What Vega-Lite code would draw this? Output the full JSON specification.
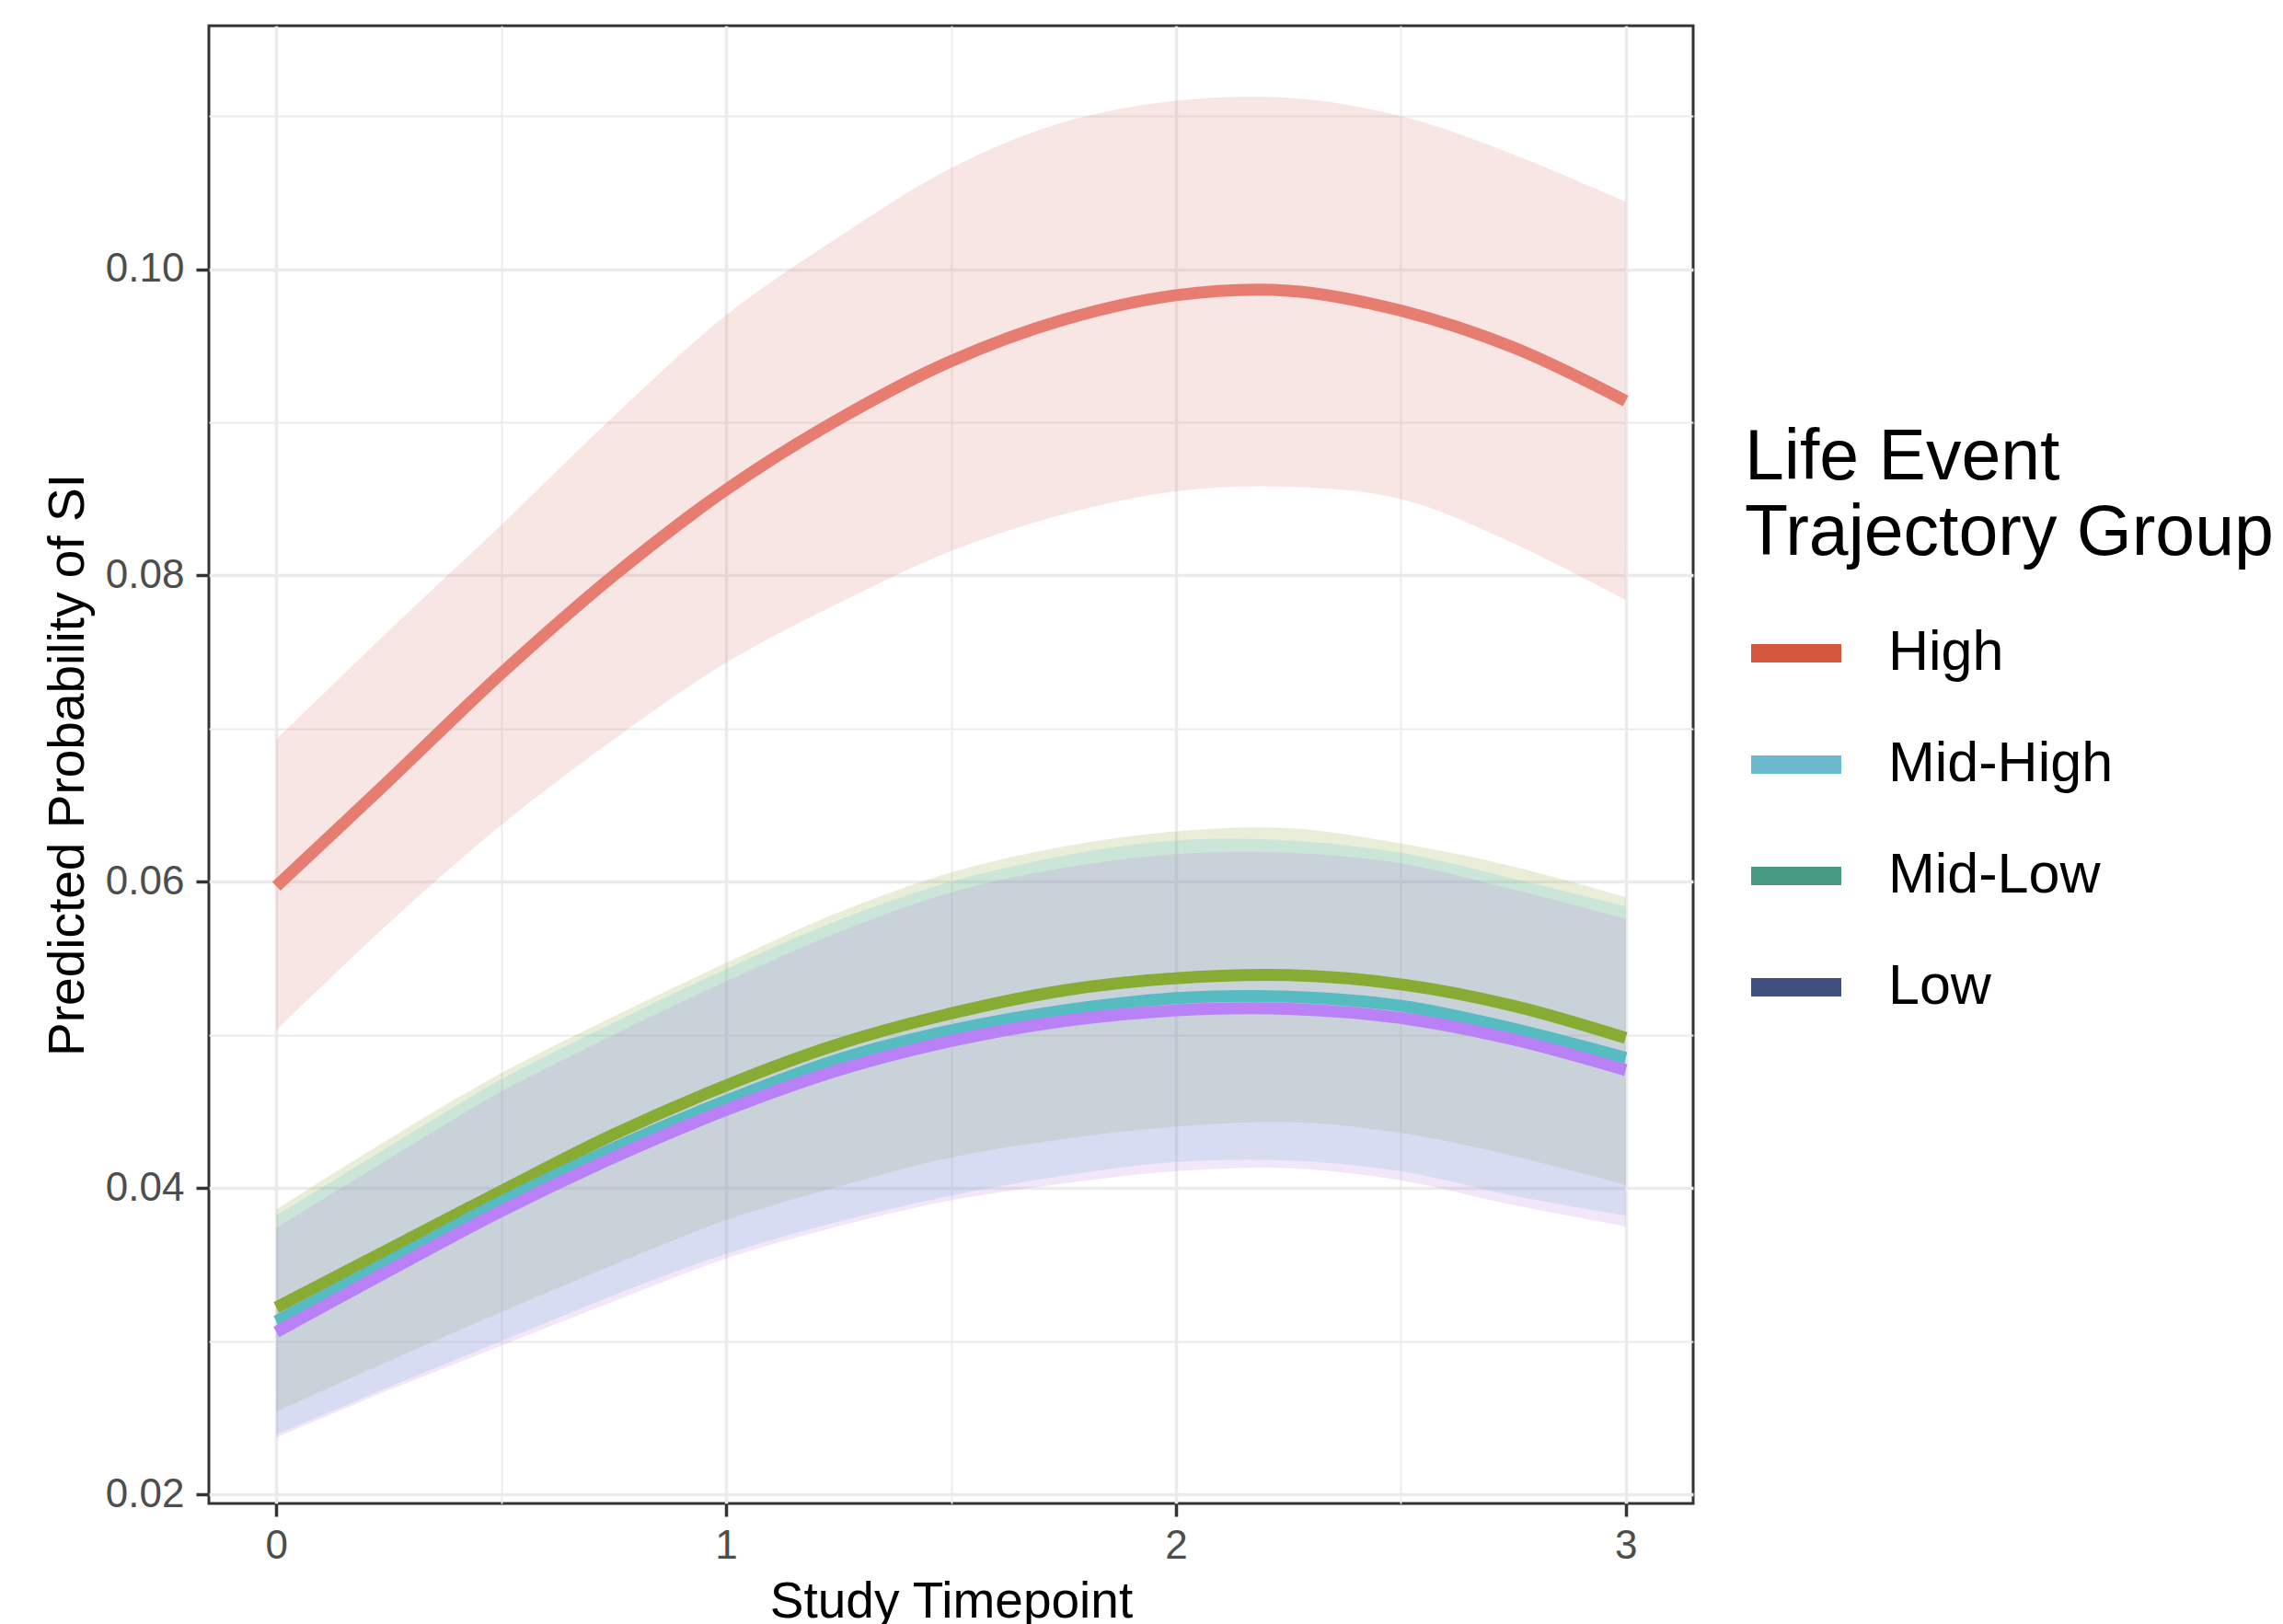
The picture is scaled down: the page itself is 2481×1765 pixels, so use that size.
{
  "$schema": "https://vega.github.io/schema/vega-lite/v6.json",
  "width": 1613,
  "height": 1606,
  "autosize": {"type": "none"},
  "padding": {"left": 227, "top": 28, "right": 641, "bottom": 131},
  "background": "white",
  "config": {
    "font": "Liberation Sans",
    "view": {"stroke": "#333333", "strokeWidth": 3}
  },
  "data": {
    "values": [
      {"t": 0, "group": "High", "fit": 0.0597, "lo": 0.0503, "hi": 0.0693},
      {"t": 0.25, "group": "High", "fit": 0.0666, "lo": 0.0573, "hi": 0.0764},
      {"t": 0.5, "group": "High", "fit": 0.0736, "lo": 0.0637, "hi": 0.0833},
      {"t": 0.75, "group": "High", "fit": 0.0800, "lo": 0.0693, "hi": 0.0904},
      {"t": 1, "group": "High", "fit": 0.0856, "lo": 0.0743, "hi": 0.0970},
      {"t": 1.25, "group": "High", "fit": 0.0902, "lo": 0.0782, "hi": 0.1021},
      {"t": 1.5, "group": "High", "fit": 0.0940, "lo": 0.0816, "hi": 0.1066},
      {"t": 1.75, "group": "High", "fit": 0.0967, "lo": 0.0840, "hi": 0.1096},
      {"t": 2, "group": "High", "fit": 0.0983, "lo": 0.0855, "hi": 0.1110},
      {"t": 2.25, "group": "High", "fit": 0.0986, "lo": 0.0858, "hi": 0.1112},
      {"t": 2.5, "group": "High", "fit": 0.0973, "lo": 0.0850, "hi": 0.1100},
      {"t": 2.75, "group": "High", "fit": 0.0949, "lo": 0.0821, "hi": 0.1075},
      {"t": 3, "group": "High", "fit": 0.0914, "lo": 0.0784, "hi": 0.1044},

      {"t": 0, "group": "Mid-High", "fit": 0.0322, "lo": 0.0254, "hi": 0.0386},
      {"t": 0.25, "group": "Mid-High", "fit": 0.0360, "lo": 0.0287, "hi": 0.0432},
      {"t": 0.5, "group": "Mid-High", "fit": 0.0398, "lo": 0.0319, "hi": 0.0475},
      {"t": 0.75, "group": "Mid-High", "fit": 0.0435, "lo": 0.0350, "hi": 0.0512},
      {"t": 1, "group": "Mid-High", "fit": 0.0467, "lo": 0.0379, "hi": 0.0547},
      {"t": 1.25, "group": "Mid-High", "fit": 0.0494, "lo": 0.0401, "hi": 0.0580},
      {"t": 1.5, "group": "Mid-High", "fit": 0.0514, "lo": 0.0420, "hi": 0.0606},
      {"t": 1.75, "group": "Mid-High", "fit": 0.0529, "lo": 0.0432, "hi": 0.0623},
      {"t": 2, "group": "Mid-High", "fit": 0.0537, "lo": 0.0440, "hi": 0.0633},
      {"t": 2.25, "group": "Mid-High", "fit": 0.0539, "lo": 0.0443, "hi": 0.0635},
      {"t": 2.5, "group": "Mid-High", "fit": 0.0533, "lo": 0.0436, "hi": 0.0625},
      {"t": 2.75, "group": "Mid-High", "fit": 0.0519, "lo": 0.0421, "hi": 0.0610},
      {"t": 3, "group": "Mid-High", "fit": 0.0498, "lo": 0.0402, "hi": 0.0590},

      {"t": 0, "group": "Mid-Low", "fit": 0.0313, "lo": 0.0239, "hi": 0.0382},
      {"t": 0.25, "group": "Mid-Low", "fit": 0.0352, "lo": 0.0270, "hi": 0.0427},
      {"t": 0.5, "group": "Mid-Low", "fit": 0.0391, "lo": 0.0300, "hi": 0.0471},
      {"t": 0.75, "group": "Mid-Low", "fit": 0.0426, "lo": 0.0330, "hi": 0.0508},
      {"t": 1, "group": "Mid-Low", "fit": 0.0457, "lo": 0.0357, "hi": 0.0543},
      {"t": 1.25, "group": "Mid-Low", "fit": 0.0484, "lo": 0.0378, "hi": 0.0575},
      {"t": 1.5, "group": "Mid-Low", "fit": 0.0503, "lo": 0.0395, "hi": 0.0600},
      {"t": 1.75, "group": "Mid-Low", "fit": 0.0516, "lo": 0.0408, "hi": 0.0617},
      {"t": 2, "group": "Mid-Low", "fit": 0.0524, "lo": 0.0417, "hi": 0.0627},
      {"t": 2.25, "group": "Mid-Low", "fit": 0.0525, "lo": 0.0418, "hi": 0.0627},
      {"t": 2.5, "group": "Mid-Low", "fit": 0.0519, "lo": 0.0411, "hi": 0.0619},
      {"t": 2.75, "group": "Mid-Low", "fit": 0.0504, "lo": 0.0395, "hi": 0.0602},
      {"t": 3, "group": "Mid-Low", "fit": 0.0485, "lo": 0.0382, "hi": 0.0584},

      {"t": 0, "group": "Low", "fit": 0.0306, "lo": 0.0237, "hi": 0.0374},
      {"t": 0.25, "group": "Low", "fit": 0.0346, "lo": 0.0268, "hi": 0.0419},
      {"t": 0.5, "group": "Low", "fit": 0.0385, "lo": 0.0297, "hi": 0.0463},
      {"t": 0.75, "group": "Low", "fit": 0.0420, "lo": 0.0326, "hi": 0.0500},
      {"t": 1, "group": "Low", "fit": 0.0451, "lo": 0.0354, "hi": 0.0535},
      {"t": 1.25, "group": "Low", "fit": 0.0477, "lo": 0.0375, "hi": 0.0567},
      {"t": 1.5, "group": "Low", "fit": 0.0496, "lo": 0.0392, "hi": 0.0593},
      {"t": 1.75, "group": "Low", "fit": 0.0509, "lo": 0.0403, "hi": 0.0609},
      {"t": 2, "group": "Low", "fit": 0.0516, "lo": 0.0411, "hi": 0.0618},
      {"t": 2.25, "group": "Low", "fit": 0.0517, "lo": 0.0413, "hi": 0.0619},
      {"t": 2.5, "group": "Low", "fit": 0.0511, "lo": 0.0405, "hi": 0.0612},
      {"t": 2.75, "group": "Low", "fit": 0.0497, "lo": 0.0389, "hi": 0.0595},
      {"t": 3, "group": "Low", "fit": 0.0477, "lo": 0.0375, "hi": 0.0576}
    ]
  },
  "encoding": {
    "x": {
      "field": "t",
      "type": "quantitative",
      "scale": {"domain": [-0.15, 3.15], "nice": false, "zero": false},
      "axis": {
        "title": "Study Timepoint",
        "values": [0, 0.5, 1, 1.5, 2, 2.5, 3],
        "labelExpr": "datum.value % 1 == 0 ? format(datum.value, 'd') : ''",
        "grid": true,
        "gridColor": "#EBEBEB",
        "gridWidth": {"condition": {"test": "datum.value % 1 == 0", "value": 3.5}, "value": 1.8},
        "domain": false,
        "ticks": true,
        "tickSize": 14,
        "tickWidth": 3.5,
        "tickColor": "#333333",
        "tickOpacity": {"condition": {"test": "datum.value % 1 == 0", "value": 1}, "value": 0},
        "labelFontSize": 44,
        "labelColor": "#4D4D4D",
        "labelPadding": 10,
        "labelFlush": false,
        "labelOverlap": false,
        "titleFontSize": 55,
        "titleColor": "#000000",
        "titleFontWeight": "normal",
        "titlePadding": 12
      }
    },
    "y": {
      "field": "fit",
      "type": "quantitative",
      "scale": {"domain": [0.0194, 0.1159], "nice": false, "zero": false},
      "axis": {
        "title": "Predicted Probability of SI",
        "values": [0.02, 0.03, 0.04, 0.05, 0.06, 0.07, 0.08, 0.09, 0.10, 0.11],
        "labelExpr": "round(datum.value * 100) % 2 == 0 ? format(datum.value, '.2f') : ''",
        "grid": true,
        "gridColor": "#EBEBEB",
        "gridWidth": {"condition": {"test": "round(datum.value * 100) % 2 == 0", "value": 3.5}, "value": 1.8},
        "domain": false,
        "ticks": true,
        "tickSize": 14,
        "tickWidth": 3.5,
        "tickColor": "#333333",
        "tickOpacity": {"condition": {"test": "round(datum.value * 100) % 2 == 0", "value": 1}, "value": 0},
        "labelFontSize": 44,
        "labelColor": "#4D4D4D",
        "labelPadding": 13,
        "labelFlush": false,
        "labelOverlap": false,
        "titleFontSize": 55,
        "titleColor": "#000000",
        "titleFontWeight": "normal",
        "titlePadding": 12
      }
    }
  },
  "layer": [
    {
      "mark": {"type": "area", "interpolate": "catmull-rom", "fillOpacity": 0.2},
      "encoding": {
        "y": {"field": "lo", "type": "quantitative"},
        "y2": {"field": "hi"},
        "fill": {
          "field": "group",
          "type": "nominal",
          "scale": {"domain": ["Low", "Mid-Low", "Mid-High", "High"], "range": ["#BE82DC", "#61C1E2", "#8CAA3C", "#DC827D"]},
          "legend": null
        }
      }
    },
    {
      "mark": {"type": "line", "interpolate": "catmull-rom", "strokeWidth": 13},
      "encoding": {
        "stroke": {
          "field": "group",
          "type": "nominal",
          "scale": {"domain": ["Mid-High", "Mid-Low", "Low", "High"], "range": ["#88AC33", "#57BBC2", "#BA80F5", "#E77D71"]},
          "legend": null
        }
      }
    },
    {
      "mark": {"type": "line", "interpolate": "catmull-rom", "opacity": 0, "strokeWidth": 1},
      "encoding": {
        "color": {
          "field": "group",
          "type": "nominal",
          "scale": {"domain": ["High", "Mid-High", "Mid-Low", "Low"], "range": ["#D5573F", "#6CB8D0", "#469A84", "#404F80"]},
          "legend": {
            "title": ["Life Event", "Trajectory Group"],
            "orient": "none",
            "legendX": 1669,
            "legendY": 432,
            "padding": 0,
            "titleFontSize": 77,
            "titleLineHeight": 82,
            "titleFontWeight": "normal",
            "titleColor": "#000000",
            "titleLimit": 1000,
            "titlePadding": 32,
            "symbolType": "stroke",
            "symbolSize": 9604,
            "symbolStrokeWidth": 20,
            "symbolOpacity": 1,
            "symbolOffset": -3,
            "labelFontSize": 61,
            "labelColor": "#000000",
            "labelLimit": 1000,
            "labelOffset": 41,
            "rowPadding": 22
          }
        }
      }
    }
  ]
}
